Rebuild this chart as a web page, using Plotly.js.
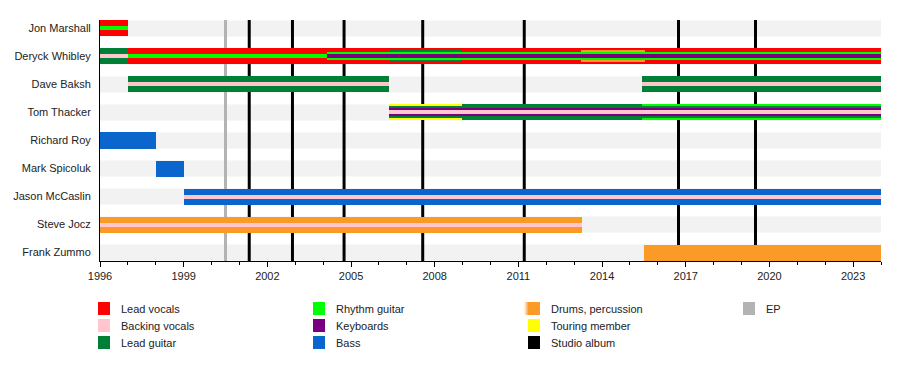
<!DOCTYPE html>
<html>
<head>
<meta charset="utf-8">
<script src="https://cdn.plot.ly/plotly-3.0.1.min.js"></script>
<style>
html,body{margin:0;padding:0;background:#fff;}
#chart{width:900px;height:370px;}
</style>
</head>
<body>
<div id="chart"></div>
<script>
// ---------------- DATA ----------------
const members = ["Jon Marshall","Deryck Whibley","Dave Baksh","Tom Thacker","Richard Roy",
                 "Mark Spicoluk","Jason McCaslin","Steve Jocz","Frank Zummo"];

const timelineStart = 1996;
const timelineEnd = 2024;

// member periods (roles listed outer -> inner)
const periodMember = ["Jon Marshall",
  "Deryck Whibley","Deryck Whibley","Deryck Whibley","Deryck Whibley","Deryck Whibley","Deryck Whibley","Deryck Whibley",
  "Dave Baksh","Dave Baksh",
  "Tom Thacker","Tom Thacker","Tom Thacker",
  "Richard Roy","Mark Spicoluk","Jason McCaslin","Steve Jocz","Frank Zummo"];
const periodStart = [1996,
  1996,1997,2004.13,2006.36,2008.97,2013.24,2015.54,
  1997,2015.43,
  2006.36,2008.97,2015.43,
  1996,1998,1999,1996,2015.5];
const periodEnd = [1997,
  1997,2004.13,2006.36,2008.97,2013.24,2015.54,2024,
  2006.36,2024,
  2008.97,2015.43,2024,
  1998,1999,2024,2013.27,2024];
const periodRoles = [
  ["Lead vocals","Rhythm guitar"],
  ["Lead guitar","Backing vocals"],
  ["Lead vocals","Rhythm guitar"],
  ["Lead vocals","Rhythm guitar","Keyboards"],
  ["Lead vocals","Lead guitar","Rhythm guitar","Keyboards"],
  ["Lead vocals","Rhythm guitar","Keyboards"],
  ["Lead vocals","Drums, percussion","Rhythm guitar","Keyboards"],
  ["Lead vocals","Rhythm guitar","Keyboards"],
  ["Lead guitar","Backing vocals"],
  ["Lead guitar","Backing vocals"],
  ["Touring member","Lead guitar","Keyboards","Backing vocals"],
  ["Lead guitar","Keyboards","Backing vocals"],
  ["Rhythm guitar","Lead guitar","Keyboards","Backing vocals"],
  ["Bass"],["Bass"],
  ["Bass","Backing vocals"],
  ["Drums, percussion","Backing vocals"],
  ["Drums, percussion"]
];

const studioAlbumDates = [2001.35, 2002.9, 2004.75, 2007.57, 2011.21, 2016.74, 2019.5];
const epDates = [2000.5];

const xTickVals = [1996,1999,2002,2005,2008,2011,2014,2017,2020,2023];

const legendLabels = ["Lead vocals","Backing vocals","Lead guitar",
                      "Rhythm guitar","Keyboards","Bass",
                      "Drums, percussion","Touring member","Studio album",
                      "EP"];

// ---------------- STYLE ----------------
const roleColors = {
  "Lead vocals":"#ff0000",
  "Backing vocals":"#ffc6cf",
  "Lead guitar":"#008037",
  "Rhythm guitar":"#00ff00",
  "Keyboards":"#7a0080",
  "Bass":"#0a66cc",
  "Drums, percussion":"#fb9a26",
  "Touring member":"#ffff00",
  "Studio album":"#000000",
  "EP":"#b3b3b3"
};
const rowPx = 28;            // pixel spacing of rows
function widthFor(i,n){ const px = (i===0) ? 16 : 4*(n-i); return px/rowPx; }

const M = {l:100, r:19, t:20, b:109};
const PW = 900 - M.l - M.r, PH = 370 - M.t - M.b;
const pxX = x => (x - M.l)/PW;
const pxY = y => (370 - M.b - y)/PH;
const yPad = 0.3;
const yLo = -yPad, yHi = members.length - 1 + yPad;

// ---------------- TRACES ----------------
const maxLayers = 4;
const traces = [];
for (let L = 0; L < maxLayers; L++) {
  const t = {type:'bar', orientation:'h', y:[], x:[], base:[], width:[],
             marker:{color:[], line:{width:0}}, showlegend:false, hoverinfo:'skip'};
  for (let p = 0; p < periodMember.length; p++) {
    const rs = periodRoles[p];
    if (L < rs.length) {
      t.y.push(periodMember[p]);
      t.base.push(periodStart[p]);
      t.x.push(periodEnd[p] - periodStart[p]);
      t.width.push(widthFor(L, rs.length));
      t.marker.color.push(roleColors[rs[L]]);
    }
  }
  traces.push(t);
}

// ---------------- SHAPES ----------------
const shapes = [];
members.forEach((m, i) => {
  shapes.push({type:'rect', xref:'x', yref:'y', x0:timelineStart, x1:timelineEnd,
    y0:i-8/rowPx, y1:i+8/rowPx, fillcolor:'#f2f2f2', line:{width:0}, layer:'below'});
});
epDates.forEach(d => shapes.push({type:'line', xref:'x', yref:'y', x0:d, x1:d, y0:yLo, y1:yHi,
  line:{color:roleColors["EP"], width:3}, layer:'below'}));
studioAlbumDates.forEach(d => shapes.push({type:'line', xref:'x', yref:'y', x0:d, x1:d, y0:yLo, y1:yHi,
  line:{color:roleColors["Studio album"], width:3}, layer:'below'}));

// legend (column-major, 3 rows)
const annotations = [];
legendLabels.forEach((lab, i) => {
  const col = Math.floor(i/3), row = i % 3;
  const sx = 98 + 215*col, cy = 308.5 + 17*row;
  shapes.push({type:'rect', xref:'paper', yref:'paper', x0:pxX(sx), x1:pxX(sx+12),
    y0:pxY(cy+6.5), y1:pxY(cy-6.5), fillcolor:roleColors[lab], line:{width:0}});
  if (lab === "Drums, percussion") {
    // soft faded left edge of the drums swatch
    const fades = ["#fff1e2","#fde0bf","#fcc78c","#fbb05a"];
    fades.forEach((c, k) => shapes.push({type:'rect', xref:'paper', yref:'paper',
      x0:pxX(sx-4+k), x1:pxX(sx-3+k), y0:pxY(cy+6.5), y1:pxY(cy-6.5), fillcolor:c, line:{width:0}}));
  }
  annotations.push({xref:'paper', yref:'paper', x:pxX(sx+21), y:pxY(cy), xanchor:'left', yanchor:'middle',
    text:lab, showarrow:false, font:{size:11, color:'#222'}});
});

// ---------------- LAYOUT ----------------
const layout = {
  width:900, height:370, margin:M,
  paper_bgcolor:'#fff', plot_bgcolor:'#fff',
  font:{family:'"Liberation Sans", Arial, sans-serif', size:11, color:'#222'},
  barmode:'overlay', bargap:0, hovermode:false,
  showlegend:false,
  xaxis:{range:[timelineStart, timelineEnd], tickvals:xTickVals, ticktext:xTickVals.map(String),
    ticks:'outside', ticklen:5, tickwidth:1, tickcolor:'#000',
    minor:{dtick:1, tick0:1996, ticks:'outside', ticklen:3, tickcolor:'#000', showgrid:false},
    showgrid:false, zeroline:false, showline:true, linecolor:'#000', linewidth:1,
    tickfont:{size:11, color:'#222'}},
  yaxis:{type:'category', categoryorder:'array', categoryarray:members,
    range:[yHi, yLo], showgrid:false, zeroline:false,
    showline:true, linecolor:'#000', linewidth:1, ticks:'', ticklabelstandoff:6,
    tickfont:{size:11, color:'#222'}},
  shapes:shapes, annotations:annotations
};

Plotly.newPlot('chart', traces, layout, {staticPlot:true, displayModeBar:false});
</script>
</body>
</html>
